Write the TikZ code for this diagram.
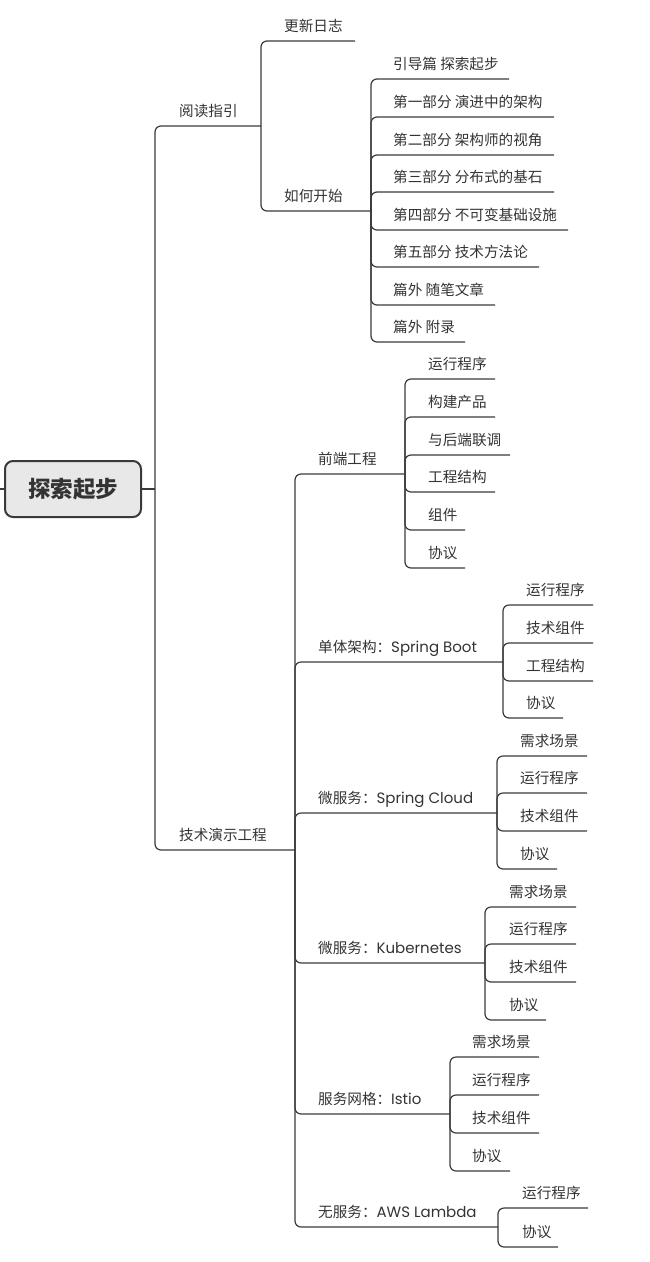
\documentclass[tikz,border=0pt]{standalone}
\usepackage{fontspec}
\setmainfont{Noto Sans CJK SC}
\newfontfamily\cjk{Noto Sans CJK SC}
\newfontfamily\lat{Poppins}
\definecolor{ln}{HTML}{3A3A3A}
\definecolor{txt}{HTML}{333333}
\definecolor{rootfill}{HTML}{E8E8E8}
\tikzset{
  lbl/.style={anchor=base west, inner sep=0pt, text=txt, font=\cjk\fontsize{14.6}{16}\selectfont, yshift=10pt},
  conn/.style={draw=ln, line width=1.2pt, rounded corners=6pt},
  rootbox/.style={draw=ln, line width=2pt, fill=rootfill, rounded corners=8pt, minimum width=136pt, minimum height=56pt, inner sep=0pt, text=txt, font=\cjk\bfseries\fontsize{22.5}{26}\selectfont}
}
\newcommand\mm[5]{\node[lbl] (#1) at (#2,#3) {#5};\coordinate (#1-e) at (#4,#3);}
\newcommand\lk[2]{\draw[conn] (#1-e) |- (#2-e);}
\begin{document}
\begin{tikzpicture}[x=1pt,y=-1pt]
\path[use as bounding box] (0,0) rectangle (649,1262);
% root
\node[rootbox] (root) at (73,489) {探索起步};
\coordinate (lstub) at (0,489);
\coordinate (root-e) at (155,489);
\draw[conn] (lstub) -- (root.west);
\draw[conn] (root.east) -- (root-e);
% level 1
\mm{read}{179}{126}{261}{阅读指引}
\mm{demo}{179}{850}{295}{技术演示工程}
\lk{root}{read}\lk{root}{demo}
% reading guide
\mm{log}{284}{41}{355}{更新日志}
\mm{start}{284}{211}{371}{如何开始}
\lk{read}{log}\lk{read}{start}
\mm{s1}{393}{79}{509}{引导篇 探索起步}
\mm{s2}{393}{117}{554}{第一部分 演进中的架构}
\mm{s3}{393}{155}{554}{第二部分 架构师的视角}
\mm{s4}{393}{192}{554}{第三部分 分布式的基石}
\mm{s5}{393}{230}{568}{第四部分 不可变基础设施}
\mm{s6}{393}{267}{539}{第五部分 技术方法论}
\mm{s7}{393}{305}{495}{篇外 随笔文章}
\mm{s8}{393}{342}{465}{篇外 附录}
\foreach \c in {s1,s2,s3,s4,s5,s6,s7,s8}{\lk{start}{\c}}
% demo projects
\mm{fe}{318}{474}{405}{前端工程}
\mm{sb}{318}{662}{503}{单体架构：{\lat\fontsize{15}{16}\selectfont Spring Boot}}
\mm{sc}{318}{813}{497}{微服务：{\lat\fontsize{15}{16}\selectfont Spring Cloud}}
\mm{k8}{318}{963}{485}{微服务：{\lat\fontsize{15}{16}\selectfont Kubernetes}}
\mm{is}{318}{1114}{450}{服务网格：{\lat\fontsize{15}{16}\selectfont Istio}}
\mm{aw}{318}{1227}{498}{无服务：{\lat\fontsize{15}{16}\selectfont AWS Lambda}}
\foreach \c in {fe,sb,sc,k8,is,aw}{\lk{demo}{\c}}
% front end
\mm{fe1}{428}{379}{495}{运行程序}
\mm{fe2}{428}{417}{495}{构建产品}
\mm{fe3}{428}{455}{510}{与后端联调}
\mm{fe4}{428}{492}{495}{工程结构}
\mm{fe5}{428}{530}{465}{组件}
\mm{fe6}{428}{568}{465}{协议}
\foreach \c in {fe1,fe2,fe3,fe4,fe5,fe6}{\lk{fe}{\c}}
% spring boot
\mm{sb1}{526}{605}{593}{运行程序}
\mm{sb2}{526}{643}{593}{技术组件}
\mm{sb3}{526}{681}{593}{工程结构}
\mm{sb4}{526}{718}{563}{协议}
\foreach \c in {sb1,sb2,sb3,sb4}{\lk{sb}{\c}}
% spring cloud
\mm{sc1}{520}{756}{587}{需求场景}
\mm{sc2}{520}{793}{587}{运行程序}
\mm{sc3}{520}{831}{587}{技术组件}
\mm{sc4}{520}{869}{557}{协议}
\foreach \c in {sc1,sc2,sc3,sc4}{\lk{sc}{\c}}
% kubernetes
\mm{k81}{509}{907}{576}{需求场景}
\mm{k82}{509}{944}{576}{运行程序}
\mm{k83}{509}{982}{576}{技术组件}
\mm{k84}{509}{1020}{546}{协议}
\foreach \c in {k81,k82,k83,k84}{\lk{k8}{\c}}
% istio
\mm{is1}{472}{1057}{539}{需求场景}
\mm{is2}{472}{1095}{539}{运行程序}
\mm{is3}{472}{1133}{539}{技术组件}
\mm{is4}{472}{1171}{510}{协议}
\foreach \c in {is1,is2,is3,is4}{\lk{is}{\c}}
% aws lambda
\mm{aw1}{522}{1208}{588}{运行程序}
\mm{aw2}{522}{1247}{558}{协议}
\foreach \c in {aw1,aw2}{\lk{aw}{\c}}
\end{tikzpicture}
\end{document}
